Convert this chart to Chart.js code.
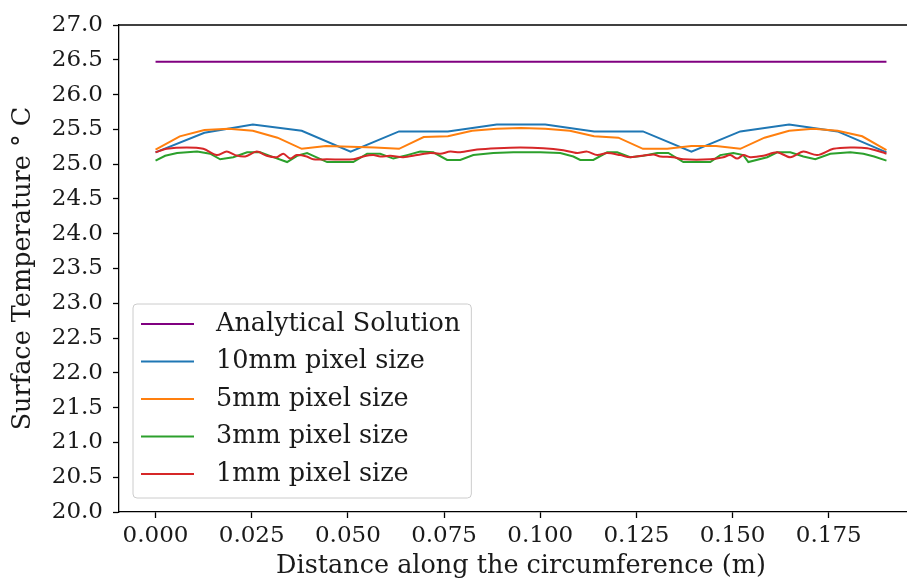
<!DOCTYPE html>
<html>
<head>
<meta charset="utf-8">
<script src="https://cdn.jsdelivr.net/npm/chart.js@4"></script>
<style>
  html, body { margin: 0; padding: 0; background: #fff; overflow: hidden; }
  #wrap { width: 907px; height: 586px; overflow: hidden; }
  canvas { display: block; }
</style>
</head>
<body>
<div id="wrap"><canvas id="chart" width="925" height="586"></canvas></div>
<script>
// series names and colours (legend order)
const seriesNames = ["Analytical Solution", "10mm pixel size", "5mm pixel size", "3mm pixel size", "1mm pixel size"];
const seriesColors = ["#800080", "#1f77b4", "#ff7f0e", "#2ca02c", "#d62728"];

// analytical solution
const xAnalytical = [0, 0.19];
const tAnalytical = [26.47, 26.47];

// 10mm pixel size
const x10mm = [0, 0.0127, 0.0253, 0.038, 0.0507, 0.0633, 0.076, 0.0887, 0.1013, 0.114, 0.1267, 0.1393, 0.152, 0.1647, 0.1773, 0.19];
const t10mm = [25.17, 25.45, 25.57, 25.48, 25.18, 25.47, 25.47, 25.57, 25.57, 25.47, 25.47, 25.18, 25.47, 25.57, 25.47, 25.17];

// 5mm pixel size
const x5mm = [0, 0.0063, 0.0127, 0.019, 0.0253, 0.0317, 0.038, 0.0443, 0.0507, 0.057, 0.0633, 0.0697, 0.076, 0.0823, 0.0887,
  0.095, 0.1013, 0.1077, 0.114, 0.1203, 0.1267, 0.133, 0.1393, 0.1457, 0.152, 0.1583, 0.1647, 0.171, 0.1773, 0.1837, 0.19];
const t5mm = [25.21, 25.40, 25.49, 25.51, 25.48, 25.38, 25.22, 25.26, 25.25, 25.24, 25.22, 25.39, 25.40, 25.48, 25.51,
  25.52, 25.51, 25.48, 25.40, 25.38, 25.22, 25.22, 25.26, 25.26, 25.22, 25.38, 25.48, 25.51, 25.48, 25.40, 25.20];

// 3mm pixel size
const x3mm = [0, 0.0025, 0.0056, 0.0108, 0.0142, 0.0168, 0.0202, 0.0238, 0.0272, 0.0306, 0.0342, 0.0368, 0.0394, 0.0446,
  0.0514, 0.055, 0.0584, 0.0618, 0.0654, 0.0688, 0.0722, 0.0758, 0.0792, 0.0826, 0.0878, 0.093, 0.1, 0.1052, 0.1086,
  0.1104, 0.1138, 0.1174, 0.12, 0.1234, 0.1268, 0.1304, 0.1333, 0.1372, 0.1442, 0.1468, 0.1502, 0.1528, 0.1541, 0.159,
  0.1616, 0.165, 0.1684, 0.1715, 0.1754, 0.1806, 0.184, 0.1868, 0.19];
const t3mm = [25.05, 25.12, 25.16, 25.18, 25.15, 25.07, 25.10, 25.17, 25.17, 25.10, 25.03, 25.12, 25.16, 25.03,
  25.03, 25.15, 25.15, 25.08, 25.13, 25.18, 25.17, 25.06, 25.06, 25.13, 25.16, 25.17, 25.17, 25.16, 25.11,
  25.06, 25.06, 25.17, 25.17, 25.10, 25.12, 25.16, 25.16, 25.03, 25.03, 25.13, 25.16, 25.13, 25.03, 25.10,
  25.17, 25.17, 25.11, 25.07, 25.15, 25.17, 25.15, 25.11, 25.05];

// 1mm pixel size
const x1mm = [0, 0.0029, 0.0081, 0.0124, 0.0159, 0.0185, 0.0207, 0.0233, 0.0263, 0.0289, 0.0315, 0.0332, 0.035, 0.0367,
  0.0393, 0.041, 0.0445, 0.0514, 0.054, 0.0566, 0.0584, 0.061, 0.0644, 0.068, 0.0714, 0.074, 0.0766, 0.0792, 0.0836,
  0.0888, 0.0948, 0.1008, 0.106, 0.1096, 0.1122, 0.1148, 0.1174, 0.1208, 0.1234, 0.1294, 0.1312, 0.1346, 0.1372,
  0.1442, 0.1476, 0.1494, 0.1512, 0.1528, 0.1546, 0.158, 0.1616, 0.165, 0.1684, 0.172, 0.1762, 0.1806, 0.185, 0.1889, 0.19];
const t1mm = [25.17, 25.22, 25.24, 25.22, 25.13, 25.18, 25.13, 25.11, 25.18, 25.12, 25.10, 25.15, 25.08, 25.13,
  25.11, 25.07, 25.07, 25.07, 25.11, 25.13, 25.11, 25.12, 25.10, 25.13, 25.16, 25.15, 25.18, 25.17, 25.21,
  25.23, 25.24, 25.23, 25.20, 25.16, 25.18, 25.13, 25.16, 25.13, 25.10, 25.14, 25.11, 25.10, 25.07,
  25.07, 25.10, 25.13, 25.08, 25.13, 25.10, 25.12, 25.17, 25.10, 25.18, 25.13, 25.22, 25.24, 25.23, 25.17, 25.15];

const FONT = '"DejaVu Serif", "Liberation Serif", serif';

function pts(xs, ys) {
  return xs.map((x, i) => ({ x: x, y: ys[i] }));
}

const seriesX = [xAnalytical, x10mm, x5mm, x3mm, x1mm];
const seriesT = [tAnalytical, t10mm, t5mm, t3mm, t1mm];

const datasets = seriesNames.map((name, i) => ({
  label: name,
  data: pts(seriesX[i], seriesT[i]),
  borderColor: seriesColors[i],
  backgroundColor: seriesColors[i],
  borderWidth: 2,
  pointRadius: 0,
  showLine: true,
  tension: i === 4 ? 0.3 : 0,
  order: seriesNames.length - i
}));

// top spine (right spine is cut off in the original)
const framePlugin = {
  id: 'frame',
  afterDraw(chart) {
    const { ctx, chartArea: ca } = chart;
    ctx.save();
    ctx.strokeStyle = '#000';
    ctx.lineWidth = 1.3;
    ctx.beginPath();
    ctx.moveTo(ca.left, ca.top);
    ctx.lineTo(ca.right + 10, ca.top);
    ctx.stroke();
    ctx.restore();
  }
};

// matplotlib-like legend box in the lower left corner
const boxLegend = {
  id: 'boxLegend',
  afterDraw(chart) {
    const { ctx, chartArea: ca } = chart;
    ctx.save();
    ctx.font = '25.5px ' + FONT;
    const maxW = Math.max(...seriesNames.map(s => ctx.measureText(s).width));
    const rowH = 37.5;
    const bh = 194;
    const bx = ca.left + 14;
    const by = ca.bottom - 14 - bh;
    const bw = 83 + maxW + 11;
    ctx.beginPath();
    ctx.roundRect(bx, by, bw, bh, 4);
    ctx.fillStyle = 'rgba(255,255,255,0.8)';
    ctx.fill();
    ctx.strokeStyle = '#cccccc';
    ctx.lineWidth = 1;
    ctx.stroke();
    ctx.textBaseline = 'middle';
    ctx.textAlign = 'left';
    seriesNames.forEach((name, i) => {
      const cy = by + 20 + i * rowH;
      ctx.strokeStyle = seriesColors[i];
      ctx.lineWidth = 2;
      ctx.beginPath();
      ctx.moveTo(bx + 8, cy);
      ctx.lineTo(bx + 61, cy);
      ctx.stroke();
      ctx.fillStyle = '#1a1a1a';
      ctx.fillText(name, bx + 83, cy);
    });
    ctx.restore();
  }
};

new Chart(document.getElementById('chart'), {
  type: 'scatter',
  data: { datasets: datasets },
  plugins: [framePlugin, boxLegend],
  options: {
    responsive: false,
    animation: false,
    devicePixelRatio: 1,
    layout: { padding: { top: 25, right: 2, left: 0, bottom: 0 } },
    plugins: { legend: { display: false }, tooltip: { enabled: false } },
    scales: {
      x: {
        type: 'linear',
        min: -0.0095,
        max: 0.1995,
        afterFit(scale) { scale.height = 74; },
        border: { color: '#000', width: 1.3 },
        grid: { drawOnChartArea: false, drawTicks: true, tickLength: 6, color: '#000', tickWidth: 1.3 },
        ticks: {
          stepSize: 0.025,
          includeBounds: false,
          color: '#1a1a1a',
          padding: 4,
          maxRotation: 0,
          font: { family: FONT, size: 23 },
          callback: v => v.toFixed(3)
        },
        title: {
          display: true,
          text: 'Distance along the circumference (m)',
          color: '#1a1a1a',
          font: { family: FONT, size: 25.5 },
          padding: { top: 0, bottom: 4 }
        }
      },
      y: {
        min: 20,
        max: 27,
        afterFit(scale) { scale.width = 119; },
        border: { color: '#000', width: 1.3 },
        grid: { drawOnChartArea: false, drawTicks: true, tickLength: 6, color: '#000', tickWidth: 1.3 },
        ticks: {
          stepSize: 0.5,
          color: '#1a1a1a',
          padding: 10,
          font: { family: FONT, size: 23 },
          callback: v => v.toFixed(1)
        },
        title: {
          display: true,
          text: 'Surface Temperature \u00b0 C',
          color: '#1a1a1a',
          font: { family: FONT, size: 25.5 },
          padding: { top: 8, bottom: 0 }
        }
      }
    }
  }
});
</script>
</body>
</html>
